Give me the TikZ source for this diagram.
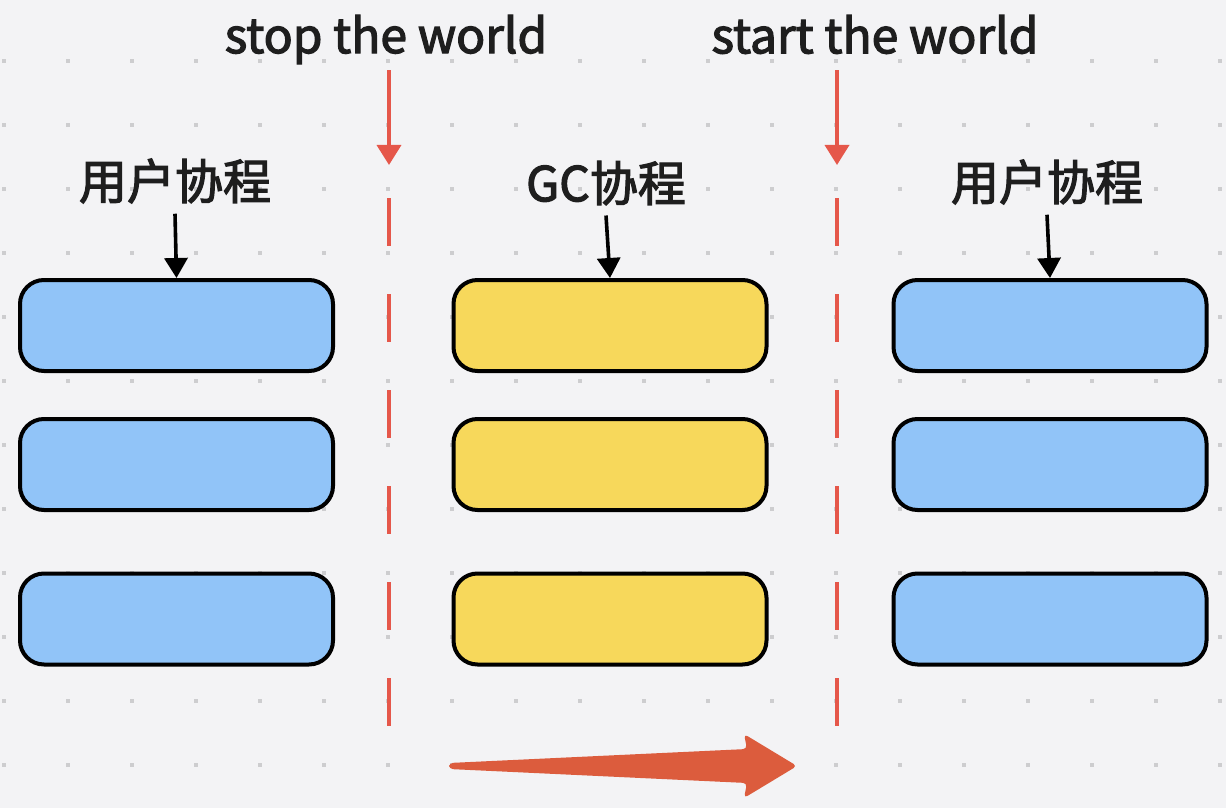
\documentclass[tikz,border=0pt]{standalone}
\usepackage{fontspec}
\setmainfont[FakeBold=2.5]{Noto Sans CJK SC}
\usetikzlibrary{arrows.meta}
\definecolor{bgc}{HTML}{F3F3F5}
\definecolor{dotc}{HTML}{CDCDCF}
\definecolor{txtc}{HTML}{1E1E1E}
\definecolor{bluec}{HTML}{91C4F8}
\definecolor{yellowc}{HTML}{F7D85B}
\definecolor{redc}{HTML}{E5574A}
\definecolor{flowc}{HTML}{DC5C3D}
\begin{document}
\begin{tikzpicture}[x=0.5pt,y=-0.5pt,
  every node/.style = {font=\fontsize{24pt}{29pt}\selectfont, text=txtc},
  task/.style = {shape=rectangle, rounded corners=12pt, draw=black,
    line width=2pt, minimum width=156.5pt, minimum height=45.5pt,
    inner sep=0pt},
  usertask/.style = {task, fill=bluec},
  gctask/.style = {task, fill=yellowc},
  lbl/.style = {inner sep=5pt},
  ptr/.style = {-{Triangle[width=11.5pt,length=10pt]}, line width=1.8pt},
  swline/.style = {draw=redc, line width=1.8pt}]
  \useasboundingbox (0,0) rectangle (1226,808);
  % background and dot grid
  \fill[bgc] (0,0) rectangle (1226,808);
  \foreach \i in {0,...,19}
    \foreach \j in {0,...,11}
      \fill[dotc] (2+64*\i,59+64*\j) rectangle +(4,4);
  % coroutines
  \foreach \x/\s/\n in {176.5/usertask/u, 610/gctask/g, 1050/usertask/v}
    \foreach \y [count=\r] in {325.5,464.5,619}
      \node[\s] (\n\r) at (\x,\y) {};
  \node[lbl] (ulbl) at (175,181) {用户协程};
  \node[lbl] (glbl) at (606,183) {GC协程};
  \node[lbl] (vlbl) at (1047,182) {用户协程};
  \draw[ptr] (ulbl.south) -- (u1.north);
  \draw[ptr] (glbl.south) -- (g1.north);
  \draw[ptr] (vlbl.south) -- (v1.north);
  % stop / start the world
  \node[lbl, inner sep=3pt] (stoplbl) at (386,39.5) {stop the world};
  \node[lbl, inner sep=8pt] (startlbl) at (875,34.5) {start the world};
  \coordinate (stoptip) at (389,165);
  \coordinate (starttip) at (837,165);
  \draw[swline, -{Triangle[width=12pt,length=10pt]}]
    (stoplbl.south -| stoptip) -- (stoptip);
  \draw[swline, -{Triangle[width=12pt,length=10pt]}]
    (startlbl.south -| starttip) -- (starttip);
  \draw[swline, dash pattern=on 24pt off 24pt] (389,198) -- (389,726);
  \draw[swline, dash pattern=on 24pt off 24pt] (837,198) -- (837,726);
  % time flow
  \fill[flowc, rounded corners=2pt] (449,763) -- (747,749) -- (744,734)
    -- (797,766) -- (744,798) -- (747,783) -- (449,769) -- cycle;
\end{tikzpicture}
\end{document}
